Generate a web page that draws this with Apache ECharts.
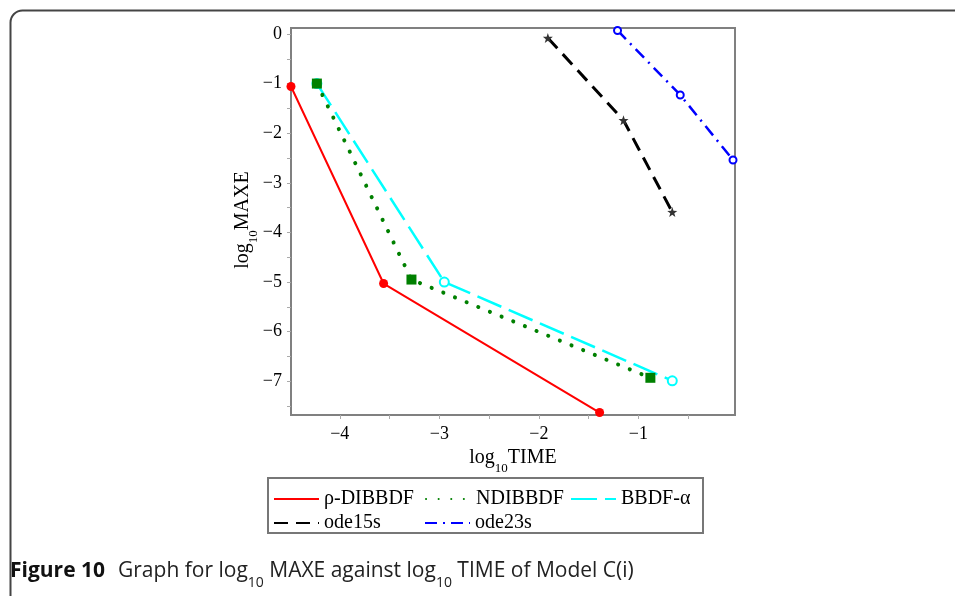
<!DOCTYPE html>
<html>
<head>
<meta charset="utf-8">
<script src="https://cdn.jsdelivr.net/npm/echarts@6/dist/echarts.min.js"></script>
<style>
  html, body { margin: 0; padding: 0; background: #fff; }
  #graph { width: 955px; height: 596px; }
</style>
</head>
<body>
<div id="graph"></div>
<script>
// log10 TIME (x) and log10 MAXE (y) for each method
const rhoX = [-4.49, -3.56, -1.39];
const rhoY = [-1.06, -5.03, -7.63];
const ndiX = [-4.23, -3.28, -0.88];
const ndiY = [-1.0, -4.95, -6.93];
const bbdfX = [-4.23, -2.95, -0.66];
const bbdfY = [-1.0, -5.0, -6.99];
const ode15X = [-1.91, -1.15, -0.66];
const ode15Y = [-0.08, -1.74, -3.59];
const ode23X = [-1.21, -0.58, -0.05];
const ode23Y = [0.07, -1.23, -2.54];

const xTicks = [-4, -3, -2, -1];
const yTicks = [0, -1, -2, -3, -4, -5, -6, -7];
const xMinor = [-4, -3.5, -3, -2.5, -2, -1.5, -1, -0.5];
const yMinor = [0, -0.5, -1, -1.5, -2, -2.5, -3, -3.5, -4, -4.5, -5, -5.5, -6, -6.5, -7, -7.5];

const serif = 'Liberation Serif';
const starPath = 'path://M50 0 L61.76 33.82 L97.55 34.55 L69.02 56.18 L79.39 90.45 L50 70 L20.61 90.45 L30.98 56.18 L2.45 34.55 L38.24 33.82 Z';

function pairs(xs, ys) {
  return xs.map((x, i) => [x, ys[i]]);
}
const minus = v => String(v).replace('-', '\u2212');

const nameRich = {
  a: { fontFamily: serif, fontSize: 20, color: '#000', fill: '#000', lineHeight: 24, verticalAlign: 'top' },
  s: { fontFamily: serif, fontSize: 13, color: '#000', fill: '#000', lineHeight: 12, verticalAlign: 'top', padding: [14, 0, 0, 0] }
};

var myChart = echarts.init(document.getElementById('graph'));

const legendBase = {
  orient: 'horizontal',
  padding: 0,
  itemWidth: 45,
  itemHeight: 14,
  itemStyle: { opacity: 0 },
  textStyle: { fontFamily: serif, fontSize: 20, color: '#000' },
  selectedMode: false
};

const option = {
  animation: false,
  backgroundColor: '#fff',
  grid: {
    left: 291, top: 28, width: 444, height: 387,
    outerBoundsMode: 'none',
    show: true, borderColor: '#808080', borderWidth: 2, backgroundColor: 'transparent'
  },
  xAxis: {
    type: 'value', min: -4.49, max: -0.03,
    name: '{a|log}{s|10}{a|TIME}',
    nameLocation: 'middle', nameGap: 24,
    nameTextStyle: { rich: nameRich },
    axisLine: { show: false, onZero: false },
    splitLine: { show: false },
    axisTick: { show: true, customValues: xMinor, length: 4, lineStyle: { color: '#aaa' } },
    axisLabel: {
      customValues: xTicks, formatter: minus, margin: 10,
      fontFamily: serif, fontSize: 18, color: '#000'
    }
  },
  yAxis: {
    type: 'value', min: -7.68, max: 0.12,
    axisLine: { show: false, onZero: false },
    splitLine: { show: false },
    axisTick: { show: true, customValues: yMinor, length: 4, lineStyle: { color: '#aaa' } },
    axisLabel: {
      customValues: yTicks, formatter: minus, margin: 9,
      fontFamily: serif, fontSize: 18, color: '#000'
    }
  },
  legend: [
    Object.assign({ left: 273, top: 489, data: ['ρ-DIBBDF'] }, legendBase),
    Object.assign({ left: 425, top: 489, data: ['NDIBBDF'] }, legendBase),
    Object.assign({ left: 570, top: 489, data: ['BBDF-α'] }, legendBase),
    Object.assign({ left: 273, top: 513, data: ['ode15s'] }, legendBase),
    Object.assign({ left: 424, top: 513, data: ['ode23s'] }, legendBase)
  ],
  series: [
    {
      name: 'ρ-DIBBDF', type: 'line', data: pairs(rhoX, rhoY),
      symbol: 'circle', symbolSize: 9,
      itemStyle: { color: '#ff0000' },
      lineStyle: { color: '#ff0000', width: 2 }
    },
    {
      name: 'BBDF-α', type: 'line', data: pairs(bbdfX, bbdfY),
      symbol: 'emptyCircle', symbolSize: 9,
      itemStyle: { color: '#00ffff', borderWidth: 2 },
      lineStyle: { color: '#00ffff', width: 2.5, type: [26, 8] }
    },
    {
      name: 'NDIBBDF', type: 'line', data: pairs(ndiX, ndiY),
      symbol: 'rect', symbolSize: 10,
      itemStyle: { color: '#008000' },
      lineStyle: { color: '#008000', width: 4, type: [0.1, 12.5], cap: 'round' }
    },
    {
      name: 'ode15s', type: 'line', data: pairs(ode15X, ode15Y),
      symbol: starPath, symbolSize: 10,
      itemStyle: { color: '#333' },
      lineStyle: { color: '#000', width: 3, type: [14, 8] }
    },
    {
      name: 'ode23s', type: 'line', data: pairs(ode23X, ode23Y),
      symbol: 'emptyCircle', symbolSize: 7,
      itemStyle: { color: '#0000ff', borderWidth: 1.5 },
      lineStyle: { color: '#0000ff', width: 2.5, type: [12, 6, 2, 6] }
    }
  ],
  graphic: [
    {
      type: 'rect', left: 8, top: 8,
      shape: { x: 0, y: 0, width: 1000, height: 700, r: 12 },
      style: { fill: 'none', stroke: '#444', lineWidth: 2 },
      silent: true
    },
    {
      type: 'rect',
      shape: { x: 268, y: 478, width: 435, height: 55 },
      style: { fill: 'none', stroke: '#777', lineWidth: 2 },
      silent: true
    },
    {
      // y axis title, rotated
      type: 'text', x: 245, y: 220, rotation: Math.PI / 2,
      style: {
        text: '{a|log}{s|10}{a|MAXE}',
        rich: nameRich,
        align: 'center', verticalAlign: 'middle'
      },
      silent: true
    },
    {
      type: 'text', left: 10, top: 561,
      style: {
        text: '{b|Figure 10}{t|Graph for log}{s|10}{t| MAXE against log}{s|10}{t| TIME of Model C(i)}',
        rich: {
          b: { fontFamily: 'Open Sans', fontWeight: 'bold', fontSize: 21, fill: '#111', lineHeight: 26, verticalAlign: 'top', padding: [0, 13, 0, 0] },
          t: { fontFamily: 'Open Sans', fontSize: 21, fill: '#222', lineHeight: 26, verticalAlign: 'top' },
          s: { fontFamily: 'Open Sans', fontSize: 14, fill: '#222', lineHeight: 14, verticalAlign: 'top', padding: [15, 0, 0, 0] }
        }
      },
      silent: true
    }
  ]
};

myChart.setOption(option);
</script>
</body>
</html>
